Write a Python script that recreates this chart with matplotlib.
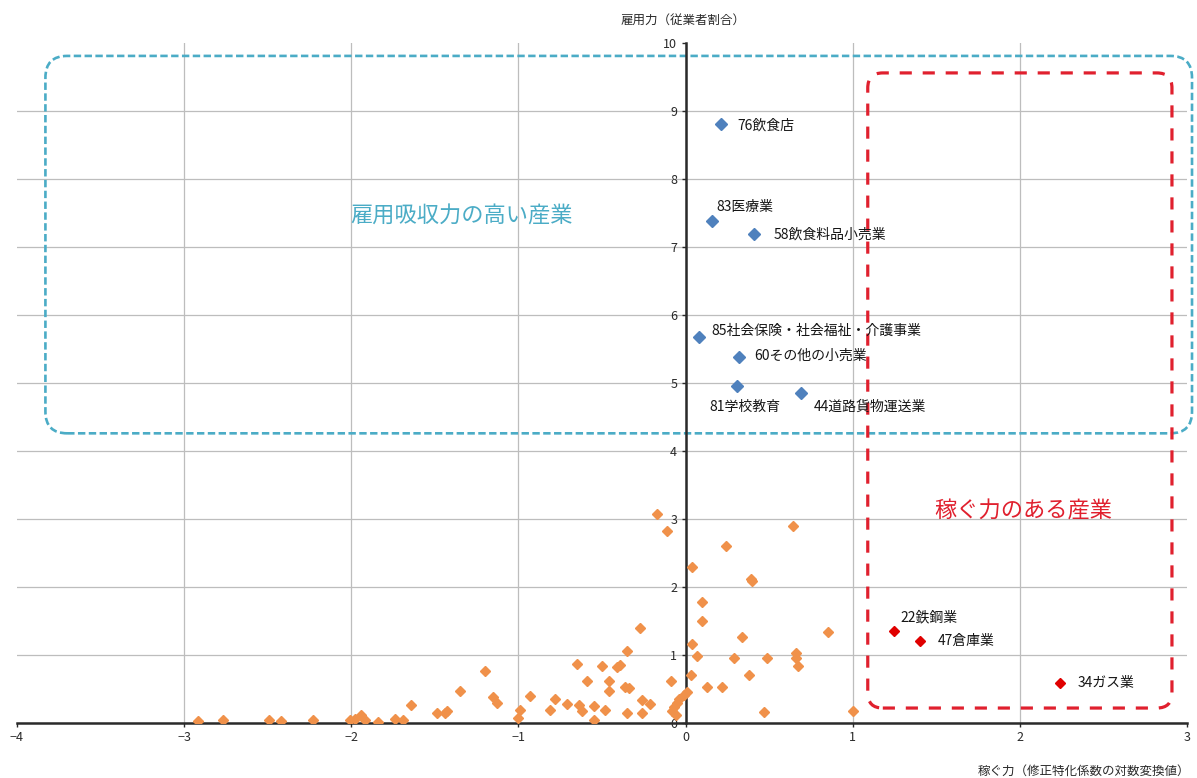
import matplotlib
matplotlib.use('Agg')
import matplotlib.pyplot as plt
from matplotlib.patches import FancyBboxPatch

plt.rcParams['font.family'] = ['Noto Sans CJK JP', 'DejaVu Sans']

# --- data: 稼ぐ力 (x) / 雇用力 (y) ---
other_x = [-2.92, -2.77, -2.49, -2.42, -2.23, -2.01, -1.98, -1.94, -1.92, -1.84,
           -1.74, -1.69, -1.64, -1.49, -1.44, -1.43, -1.35, -1.20, -1.15, -1.13,
           -1.00, -0.99, -0.93, -0.81, -0.78, -0.71, -0.65, -0.64, -0.62, -0.59,
           -0.55, -0.55, -0.50, -0.48, -0.46, -0.46, -0.41, -0.39, -0.36, -0.34,
           -0.35, -0.35, -0.27, -0.26, -0.26, -0.21, -0.17, -0.11, -0.09, -0.08,
           -0.07, -0.06, -0.05, -0.04, -0.01, 0.01, 0.03, 0.04, 0.04, 0.07,
           0.10, 0.10, 0.13, 0.22, 0.24, 0.29, 0.34, 0.38, 0.39, 0.40,
           0.47, 0.49, 0.64, 0.66, 0.66, 0.67, 0.85, 1.00]
other_y = [0.03, 0.05, 0.04, 0.03, 0.04, 0.04, 0.06, 0.12, 0.05, 0.02,
           0.06, 0.04, 0.26, 0.15, 0.14, 0.18, 0.47, 0.76, 0.38, 0.30,
           0.07, 0.19, 0.39, 0.19, 0.35, 0.28, 0.87, 0.26, 0.18, 0.62,
           0.25, 0.04, 0.84, 0.19, 0.62, 0.47, 0.83, 0.86, 0.53, 0.51,
           1.06, 0.14, 1.39, 0.34, 0.15, 0.28, 3.08, 2.82, 0.62, 0.18,
           0.24, 0.12, 0.29, 0.36, 0.41, 0.46, 0.71, 1.16, 2.29, 0.99,
           1.78, 1.50, 0.53, 0.53, 2.60, 0.96, 1.26, 0.71, 2.12, 2.09,
           0.16, 0.96, 2.90, 1.03, 0.95, 0.84, 1.34, 0.17]

emp_names = ['76飲食店', '83医療業', '58飲食料品小売業', '85社会保険・社会福祉・介護事業',
             '60その他の小売業', '81学校教育', '44道路貨物運送業']
emp_x = [0.21, 0.16, 0.41, 0.08, 0.32, 0.31, 0.69]
emp_y = [8.81, 7.38, 7.19, 5.68, 5.38, 4.96, 4.85]
emp_offsets = [(12, -1), (3, 10), (14, 0), (9, 4), (11, 1), (-20, -15), (9, -10)]

earn_names = ['22鉄鋼業', '47倉庫業', '34ガス業']
earn_x = [1.25, 1.40, 2.24]
earn_y = [1.35, 1.21, 0.59]
earn_offsets = [(4, 10), (13, 0), (13, 0)]

fig = plt.figure(figsize=(11.97, 7.78), dpi=100)
ax = fig.add_axes([17 / 1197, 55 / 778, 1170 / 1197, 680 / 778])
ax.set_xlim(-4, 3)
ax.set_ylim(0, 10)
ax.set_xticks(range(-4, 4))
ax.set_yticks(range(0, 11))

# axes through the origin
for side in ['top', 'right']:
    ax.spines[side].set_visible(False)
ax.spines['left'].set_position(('data', 0))
ax.spines['bottom'].set_position(('data', 0))
for side in ['left', 'bottom']:
    ax.spines[side].set_color('#2a2a2a')
    ax.spines[side].set_linewidth(1.8)
    ax.spines[side].set_zorder(3)
ax.tick_params(direction='out', length=3, width=1, color='#2a2a2a',
               labelsize=9, labelcolor='#2a2a2a', pad=3)

ax.grid(True, color='#bdbdbd', linewidth=0.9)
ax.set_axisbelow(True)
xg = ax.xaxis.get_gridlines()
xg[0].set_visible(False)
xg[-1].set_visible(False)
ax.yaxis.get_gridlines()[-1].set_visible(False)

ax.plot(other_x, other_y, 'D', color='#f0914a', markersize=5.3, zorder=4)
ax.plot(emp_x, emp_y, 'D', color='#4f81bd', markersize=6, zorder=4)
ax.plot(earn_x, earn_y, 'D', color='#e00000', markersize=5.5, zorder=4)

for name, x, y, off in zip(emp_names + earn_names, emp_x + earn_x,
                           emp_y + earn_y, emp_offsets + earn_offsets):
    ax.annotate(name, (x, y), xytext=off, textcoords='offset points',
                ha='left', va='center', fontsize=10, color='#151515', zorder=5)

# rounded dashed boxes (keep corners circular in pixels)
aspect = (1170 / 7) / (680 / 10)
blue_box = FancyBboxPatch((-3.83, 4.26), 3.03 + 3.83, 9.81 - 4.26,
                          boxstyle='round,pad=0,rounding_size=0.13',
                          mutation_aspect=aspect, fill=False,
                          edgecolor='#4bacc6', linewidth=1.9,
                          linestyle=(0, (2.8, 1.3)), clip_on=False, zorder=2)
red_box = FancyBboxPatch((1.09, 0.22), 2.91 - 1.09, 9.56 - 0.22,
                         boxstyle='round,pad=0,rounding_size=0.09',
                         mutation_aspect=aspect, fill=False,
                         edgecolor='#e0202e', linewidth=2.3,
                         linestyle=(0, (3.8, 3.4)), clip_on=False, zorder=2.5)
ax.add_patch(blue_box)
ax.add_patch(red_box)

ax.text(-1.34, 7.45, '雇用吸収力の高い産業', fontsize=16, color='#4bacc6',
        ha='center', va='center')
ax.text(2.02, 3.11, '稼ぐ力のある産業', fontsize=16, color='#e0202e',
        ha='center', va='center')

fig.text(683 / 1197, 1 - 20 / 778, '雇用力（従業者割合）', fontsize=9,
         color='#2a2a2a', ha='center', va='center')
fig.text(1190 / 1197, 1 - 771 / 778, '稼ぐ力（修正特化係数の対数変換値）', fontsize=9,
         color='#2a2a2a', ha='right', va='center')

fig.savefig('out.png', dpi=100)
